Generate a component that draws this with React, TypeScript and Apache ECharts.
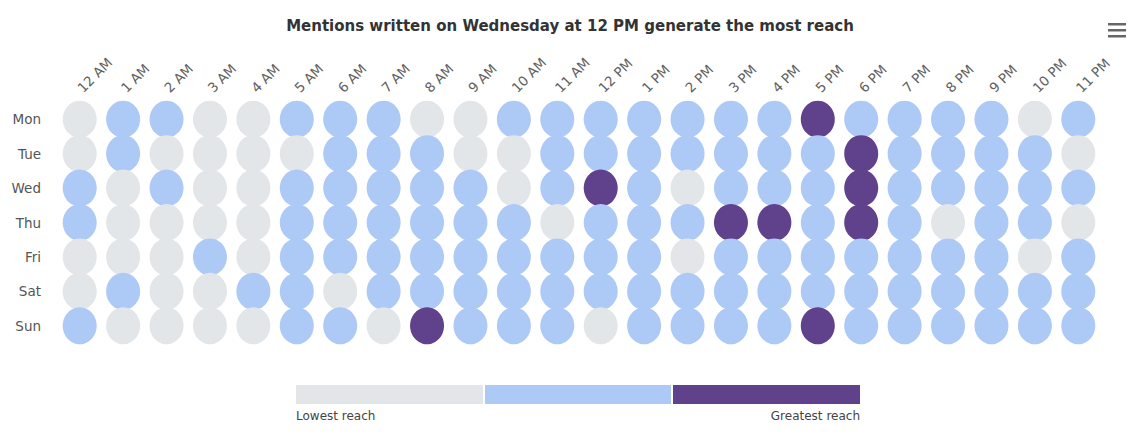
import React, { useEffect, useRef } from "react";
import * as echarts from "echarts";

const hours = ["12 AM","1 AM","2 AM","3 AM","4 AM","5 AM","6 AM","7 AM","8 AM","9 AM","10 AM","11 AM","12 PM","1 PM","2 PM","3 PM","4 PM","5 PM","6 PM","7 PM","8 PM","9 PM","10 PM","11 PM"];
const days = ["Mon","Tue","Wed","Thu","Fri","Sat","Sun"];
// 0 = lowest reach, 1 = medium, 2 = greatest reach
const mon = [0,1,1,0,0,1,1,1,0,0,1,1,1,1,1,1,1,2,1,1,1,1,0,1];
const tue = [0,1,0,0,0,0,1,1,1,0,0,1,1,1,1,1,1,1,2,1,1,1,1,0];
const wed = [1,0,1,0,0,1,1,1,1,1,0,1,2,1,0,1,1,1,2,1,1,1,1,1];
const thu = [1,0,0,0,0,1,1,1,1,1,1,0,1,1,1,2,2,1,2,1,0,1,1,0];
const fri = [0,0,0,1,0,1,1,1,1,1,1,1,1,1,0,1,1,1,1,1,1,1,0,1];
const sat = [0,1,0,0,1,1,0,1,1,1,1,1,1,1,1,1,1,1,1,1,1,1,1,1];
const sun = [1,0,0,0,0,1,1,0,2,1,1,1,0,1,1,1,1,2,1,1,1,1,1,1];
const levels = [mon, tue, wed, thu, fri, sat, sun];
const levelColors = ["#e3e6e9", "#adc9f6", "#60418c"];
const legendLabels = ["Lowest reach", "Greatest reach"];
const title = "Mentions written on Wednesday at 12 PM generate the most reach";

export default function App() {
  const ref = useRef<HTMLDivElement>(null);
  useEffect(() => {
    if (!ref.current) return;
    const chart = echarts.init(ref.current, undefined, { renderer: "svg" });
    const data: number[][] = [];
    levels.forEach((row, d) => row.forEach((v, h) => data.push([h, d, v])));
    const font = "'DejaVu Sans', sans-serif";
    const legX = 296, legW = 564, legY = 385, legH = 19;
    const segW = legW / 3;
    chart.setOption({
      animation: false,
      backgroundColor: "#ffffff",
      title: {
        text: title,
        left: "center",
        top: 13,
        textStyle: { fontFamily: font, fontSize: 15, fontWeight: "bold", color: "#333333" },
      },
      grid: { left: 58, right: 40, top: 102, bottom: 98 },
      xAxis: {
        type: "category",
        data: hours,
        position: "top",
        axisLine: { show: false },
        axisTick: { show: false },
        splitLine: { show: false },
        axisLabel: { rotate: -45, interval: 0, fontFamily: font, fontSize: 13.5, color: "#606060", margin: 12 },
      },
      yAxis: {
        type: "category",
        data: days,
        inverse: true,
        axisLine: { show: false },
        axisTick: { show: false },
        splitLine: { show: false },
        axisLabel: { fontFamily: font, fontSize: 13.5, color: "#555555", margin: 17 },
      },
      series: [
        {
          type: "scatter",
          symbol: "circle",
          symbolSize: [34, 37],
          data,
          itemStyle: { opacity: 1, color: (p: any) => levelColors[p.value[2]] },
        },
      ],
      graphic: [
        ...levelColors.map((c, i) => ({
          type: "rect",
          shape: { x: legX + i * segW + (i > 0 ? 1 : 0), y: legY, width: segW - (i < 2 ? 1 : 0) - (i > 0 ? 1 : 0), height: legH },
          style: { fill: c },
        })),
        {
          type: "text",
          x: legX,
          y: legY + legH + 6,
          style: { text: legendLabels[0], fontFamily: font, fontSize: 12, fill: "#444444", textAlign: "left", textVerticalAlign: "top" },
        },
        {
          type: "text",
          x: legX + legW,
          y: legY + legH + 6,
          style: { text: legendLabels[1], fontFamily: font, fontSize: 12, fill: "#444444", textAlign: "right", textVerticalAlign: "top" },
        },
        ...[0, 1, 2].map((i) => ({
          type: "rect",
          shape: { x: 1108, y: 23 + i * 6, width: 18, height: 2.5 },
          style: { fill: "#666666" },
        })),
      ],
    });
    return () => chart.dispose();
  }, []);
  return <div ref={ref} style={{ position: "fixed", left: 0, top: 0, width: 1140, height: 441 }} />;
}
